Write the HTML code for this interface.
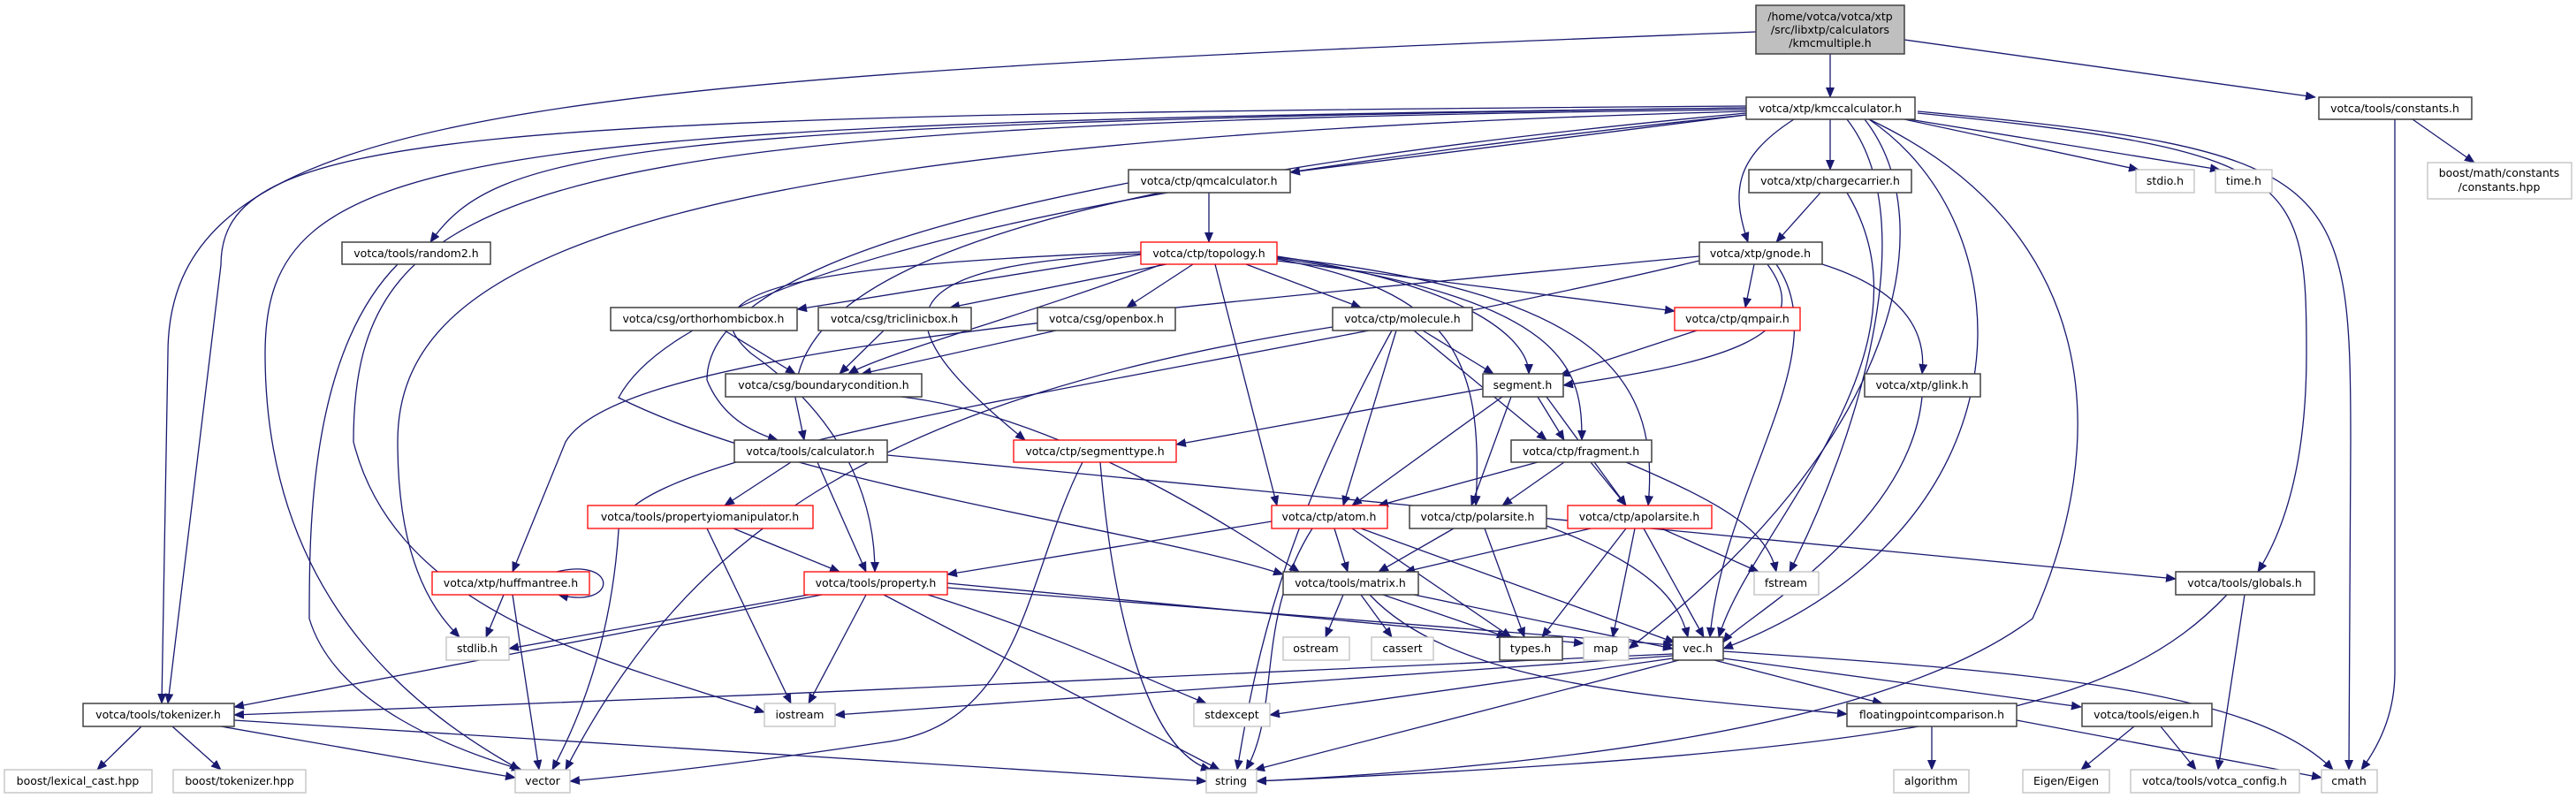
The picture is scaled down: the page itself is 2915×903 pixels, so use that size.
<!DOCTYPE html>
<html><head><meta charset="utf-8"><style>
html,body{margin:0;padding:0;background:#fff;width:2915px;height:903px;overflow:hidden}
svg text{font-family:"DejaVu Sans","Liberation Sans",sans-serif;font-size:12.5px;fill:#000;text-anchor:middle}
.e{fill:none;stroke:#191970;stroke-width:1.3;marker-end:url(#a)}
.b{fill:#fff;stroke:#404040;stroke-width:1.5}
.r{fill:#fff;stroke:#ff0000;stroke-width:1.3}
.g{fill:#fff;stroke:#bfbfbf;stroke-width:1.3}
</style></head><body>
<svg width="2915" height="903" viewBox="0 0 2915 903" xmlns="http://www.w3.org/2000/svg">
<defs><marker id="a" markerWidth="12" markerHeight="10" refX="11" refY="5" orient="auto" markerUnits="userSpaceOnUse"><path d="M0,0 L12,5 L0,10 z" fill="#191970"/></marker></defs>
<g>
<path class="e" d="M2071,61 L2071,110"/>
<path class="e" d="M2155,45 L2620,110"/>
<path class="e" d="M1987,36 C600,90 190,120 190,400 L183,796"/>
<path class="e" d="M2071,135 L2071,192"/>
<path class="e" d="M1976,130 L1460,195"/>
<path class="e" d="M2030,135 C1960,180 1960,220 1978,274"/>
<path class="e" d="M2155,135 L2420,192"/>
<path class="e" d="M2160,135 L2512,192"/>
<path class="e" d="M2170,128 C2600,170 2610,200 2610,400 Q2610,560 2555,647"/>
<path class="e" d="M2170,126 C2650,170 2660,200 2660,500 L2658,871"/>
<path class="e" d="M2115,135 C2380,260 2390,500 2300,700 Q2100,850 1422,884"/>
<path class="e" d="M2115,135 C2300,260 2300,600 1950,734"/>
<path class="e" d="M2110,135 C2200,250 2150,500 1843,734"/>
<path class="e" d="M2090,135 C2180,250 2100,500 2025,647"/>
<path class="e" d="M1976,122 C700,140 560,170 487,274"/>
<path class="e" d="M1976,120 C500,130 250,150 250,300 L190,796"/>
<path class="e" d="M1976,122 C500,140 300,170 300,400 C300,700 500,820 588,871"/>
<path class="e" d="M1976,124 C600,140 400,200 400,500 C450,700 700,750 865,806"/>
<path class="e" d="M1976,126 C700,160 450,300 450,500 C450,650 500,700 520,721"/>
<path class="e" d="M1976,128 C1200,200 900,300 900,450 L910,498"/>
<path class="e" d="M1976,130 C1300,200 780,300 700,450 C900,550 1300,600 1452,650"/>
<path class="e" d="M2730,135 L2800,184"/>
<path class="e" d="M2710,135 L2710,760 Q2710,820 2672,871"/>
<path class="e" d="M1368,218 L1368,274"/>
<path class="e" d="M1277,207 C1000,260 800,330 800,430 Q820,480 880,498"/>
<path class="e" d="M2060,218 L2010,274"/>
<path class="e" d="M2090,218 C2200,400 1980,600 1945,721"/>
<path class="e" d="M1985,299 L1975,348"/>
<path class="e" d="M2000,299 C2060,380 1950,410 1769,436"/>
<path class="e" d="M2062,299 C2160,330 2180,380 2175,423"/>
<path class="e" d="M2010,299 C2080,400 1950,550 1935,721"/>
<path class="e" d="M1923,290 C1200,360 700,400 640,500 L580,647"/>
<path class="e" d="M1923,295 C1400,420 700,500 700,600 Q690,750 625,871"/>
<path class="e" d="M450,299 C350,400 350,600 350,700 C380,800 520,850 590,871"/>
<path class="e" d="M1291,288 L902,350"/>
<path class="e" d="M1320,299 L1075,348"/>
<path class="e" d="M1350,299 L1275,348"/>
<path class="e" d="M1315,299 C1150,360 1000,400 960,423"/>
<path class="e" d="M1410,299 L1540,348"/>
<path class="e" d="M1445,295 L1895,352"/>
<path class="e" d="M1445,290 C1650,320 1730,380 1730,423"/>
<path class="e" d="M1445,292 C1780,340 1790,420 1790,498"/>
<path class="e" d="M1375,299 L1445,572"/>
<path class="e" d="M1445,293 C1640,330 1680,400 1670,572"/>
<path class="e" d="M1445,291 C1800,330 1880,420 1865,572"/>
<path class="e" d="M1291,287 C1000,300 990,360 1160,498"/>
<path class="e" d="M1291,285 C900,300 770,330 850,400 C950,470 990,560 990,647"/>
<path class="e" d="M820,374 L900,423"/>
<path class="e" d="M1000,374 L950,423"/>
<path class="e" d="M1195,374 L975,423"/>
<path class="e" d="M1020,449 C1200,470 1400,600 1470,647"/>
<path class="e" d="M1610,374 L1690,423"/>
<path class="e" d="M1600,374 L1750,498"/>
<path class="e" d="M1580,374 L1520,572"/>
<path class="e" d="M1575,374 C1450,600 1420,750 1400,871"/>
<path class="e" d="M1508,370 C1000,450 780,600 640,871"/>
<path class="e" d="M1920,374 L1765,425"/>
<path class="e" d="M1678,440 L1331,503"/>
<path class="e" d="M1740,449 L1770,498"/>
<path class="e" d="M1700,449 L1530,572"/>
<path class="e" d="M1710,449 L1665,572"/>
<path class="e" d="M1750,449 L1840,572"/>
<path class="e" d="M2175,449 C2160,600 1970,700 1950,727"/>
<path class="e" d="M895,523 L820,572"/>
<path class="e" d="M925,523 L980,647"/>
<path class="e" d="M1004,515 L2462,655"/>
<path class="e" d="M1245,523 C1260,700 1300,850 1370,871"/>
<path class="e" d="M1225,523 C1160,650 1160,820 1000,840 Q800,870 645,884"/>
<path class="e" d="M1740,523 L1560,572"/>
<path class="e" d="M1770,523 L1700,572"/>
<path class="e" d="M1800,523 L1840,572"/>
<path class="e" d="M1840,523 C1950,570 2000,600 2010,647"/>
<path class="e" d="M830,598 L950,647"/>
<path class="e" d="M800,598 L895,796"/>
<path class="e" d="M1439,590 L1072,650"/>
<path class="e" d="M1510,598 L1525,647"/>
<path class="e" d="M1540,598 L1895,727"/>
<path class="e" d="M1530,598 L1710,721"/>
<path class="e" d="M1485,598 C1420,700 1450,800 1410,871"/>
<path class="e" d="M1645,598 L1560,647"/>
<path class="e" d="M1680,598 L1725,721"/>
<path class="e" d="M1750,595 C1870,640 1900,680 1910,721"/>
<path class="e" d="M1800,598 L1590,647"/>
<path class="e" d="M1840,598 L1745,721"/>
<path class="e" d="M1850,598 L1825,721"/>
<path class="e" d="M1860,598 L1928,721"/>
<path class="e" d="M1880,598 L1990,647"/>
<path class="e" d="M630,647 C700,630 700,690 632,673"/>
<path class="e" d="M570,673 L550,721"/>
<path class="e" d="M580,673 L610,871"/>
<path class="e" d="M915,673 L576,734"/>
<path class="e" d="M930,673 L265,800"/>
<path class="e" d="M980,673 L915,796"/>
<path class="e" d="M1000,673 L1380,871"/>
<path class="e" d="M1050,673 C1200,720 1300,770 1365,796"/>
<path class="e" d="M1072,660 L1792,728"/>
<path class="e" d="M1072,665 L1893,730"/>
<path class="e" d="M1520,673 L1500,721"/>
<path class="e" d="M1540,673 L1575,721"/>
<path class="e" d="M1565,673 L1705,721"/>
<path class="e" d="M1600,673 L1893,734"/>
<path class="e" d="M1550,673 C1650,780 1900,790 2090,808"/>
<path class="e" d="M1893,740 C1500,760 800,790 265,809"/>
<path class="e" d="M1893,742 L945,809"/>
<path class="e" d="M1893,745 L1437,809"/>
<path class="e" d="M1900,747 L1420,871"/>
<path class="e" d="M1940,747 L2130,796"/>
<path class="e" d="M1950,745 L2355,800"/>
<path class="e" d="M1950,737 C2300,760 2550,780 2640,871"/>
<path class="e" d="M160,822 L110,871"/>
<path class="e" d="M195,822 L250,871"/>
<path class="e" d="M250,822 L583,880"/>
<path class="e" d="M265,815 L1365,884"/>
<path class="e" d="M2520,673 C2400,800 2200,850 1422,884"/>
<path class="e" d="M2540,673 L2510,871"/>
<path class="e" d="M2186,822 L2186,871"/>
<path class="e" d="M2282,815 L2627,880"/>
<path class="e" d="M2415,822 L2355,871"/>
<path class="e" d="M2445,822 L2485,871"/>
</g>
<g>
<rect x="1987" y="6" width="168" height="55" fill="#bfbfbf" stroke="#404040" stroke-width="1.5"/>
<text x="2071" y="23">/home/votca/votca/xtp</text><text x="2071" y="38">/src/libxtp/calculators</text><text x="2071" y="53">/kmcmultiple.h</text>
<rect class="b" x="1976" y="110" width="191" height="25"/><text x="2071" y="127">votca/xtp/kmccalculator.h</text>
<rect class="b" x="2624" y="110" width="173" height="25"/><text x="2710" y="127">votca/tools/constants.h</text>
<rect class="g" x="2747" y="184" width="163" height="41"/><text x="2828" y="200">boost/math/constants</text><text x="2828" y="216">/constants.hpp</text>
<rect class="b" x="1277" y="192" width="183" height="26"/><text x="1368" y="209">votca/ctp/qmcalculator.h</text>
<rect class="b" x="1979" y="192" width="184" height="26"/><text x="2071" y="209">votca/xtp/chargecarrier.h</text>
<rect class="g" x="2417" y="192" width="66" height="26"/><text x="2450" y="209">stdio.h</text>
<rect class="g" x="2507" y="192" width="64" height="26"/><text x="2539" y="209">time.h</text>
<rect class="b" x="387" y="274" width="168" height="25"/><text x="471" y="291">votca/tools/random2.h</text>
<rect class="r" x="1291" y="274" width="154" height="25"/><text x="1368" y="291">votca/ctp/topology.h</text>
<rect class="b" x="1923" y="274" width="139" height="25"/><text x="1992" y="291">votca/xtp/gnode.h</text>
<rect class="b" x="691" y="348" width="211" height="26"/><text x="796" y="365">votca/csg/orthorhombicbox.h</text>
<rect class="b" x="926" y="348" width="173" height="26"/><text x="1012" y="365">votca/csg/triclinicbox.h</text>
<rect class="b" x="1174" y="348" width="156" height="26"/><text x="1252" y="365">votca/csg/openbox.h</text>
<rect class="b" x="1508" y="348" width="158" height="26"/><text x="1587" y="365">votca/ctp/molecule.h</text>
<rect class="r" x="1895" y="348" width="142" height="26"/><text x="1966" y="365">votca/ctp/qmpair.h</text>
<rect class="b" x="821" y="423" width="222" height="26"/><text x="932" y="440">votca/csg/boundarycondition.h</text>
<rect class="b" x="1678" y="423" width="91" height="26"/><text x="1723" y="440">segment.h</text>
<rect class="b" x="2110" y="423" width="131" height="26"/><text x="2175" y="440">votca/xtp/glink.h</text>
<rect class="b" x="831" y="498" width="173" height="25"/><text x="917" y="515">votca/tools/calculator.h</text>
<rect class="r" x="1147" y="498" width="184" height="25"/><text x="1239" y="515">votca/ctp/segmenttype.h</text>
<rect class="b" x="1710" y="498" width="159" height="25"/><text x="1789" y="515">votca/ctp/fragment.h</text>
<rect class="r" x="665" y="572" width="255" height="26"/><text x="792" y="589">votca/tools/propertyiomanipulator.h</text>
<rect class="r" x="1439" y="572" width="131" height="26"/><text x="1504" y="589">votca/ctp/atom.h</text>
<rect class="b" x="1595" y="572" width="155" height="26"/><text x="1672" y="589">votca/ctp/polarsite.h</text>
<rect class="r" x="1774" y="572" width="163" height="26"/><text x="1855" y="589">votca/ctp/apolarsite.h</text>
<rect class="r" x="489" y="647" width="178" height="26"/><text x="578" y="664">votca/xtp/huffmantree.h</text>
<rect class="r" x="910" y="647" width="162" height="26"/><text x="991" y="664">votca/tools/property.h</text>
<rect class="b" x="1452" y="647" width="153" height="26"/><text x="1528" y="664">votca/tools/matrix.h</text>
<rect class="g" x="1985" y="647" width="73" height="26"/><text x="2021" y="664">fstream</text>
<rect class="b" x="2462" y="647" width="157" height="26"/><text x="2540" y="664">votca/tools/globals.h</text>
<rect class="g" x="505" y="721" width="71" height="26"/><text x="540" y="738">stdlib.h</text>
<rect class="g" x="1452" y="721" width="75" height="26"/><text x="1489" y="738">ostream</text>
<rect class="g" x="1552" y="721" width="70" height="26"/><text x="1587" y="738">cassert</text>
<rect class="b" x="1697" y="721" width="71" height="26"/><text x="1732" y="738">types.h</text>
<rect class="g" x="1792" y="721" width="51" height="26"/><text x="1817" y="738">map</text>
<rect class="b" x="1893" y="721" width="57" height="26"/><text x="1921" y="738">vec.h</text>
<rect class="b" x="94" y="796" width="171" height="26"/><text x="179" y="813">votca/tools/tokenizer.h</text>
<rect class="g" x="865" y="796" width="80" height="26"/><text x="905" y="813">iostream</text>
<rect class="g" x="1351" y="796" width="86" height="26"/><text x="1394" y="813">stdexcept</text>
<rect class="b" x="2090" y="796" width="192" height="26"/><text x="2186" y="813">floatingpointcomparison.h</text>
<rect class="b" x="2356" y="796" width="147" height="26"/><text x="2429" y="813">votca/tools/eigen.h</text>
<rect class="g" x="5" y="871" width="167" height="26"/><text x="88" y="888">boost/lexical_cast.hpp</text>
<rect class="g" x="196" y="871" width="150" height="26"/><text x="271" y="888">boost/tokenizer.hpp</text>
<rect class="g" x="583" y="871" width="62" height="26"/><text x="614" y="888">vector</text>
<rect class="g" x="1365" y="871" width="57" height="26"/><text x="1393" y="888">string</text>
<rect class="g" x="2143" y="871" width="85" height="26"/><text x="2185" y="888">algorithm</text>
<rect class="g" x="2289" y="871" width="98" height="26"/><text x="2338" y="888">Eigen/Eigen</text>
<rect class="g" x="2411" y="871" width="191" height="26"/><text x="2506" y="888">votca/tools/votca_config.h</text>
<rect class="g" x="2627" y="871" width="63" height="26"/><text x="2658" y="888">cmath</text>
</g>
</svg>
</body></html>
